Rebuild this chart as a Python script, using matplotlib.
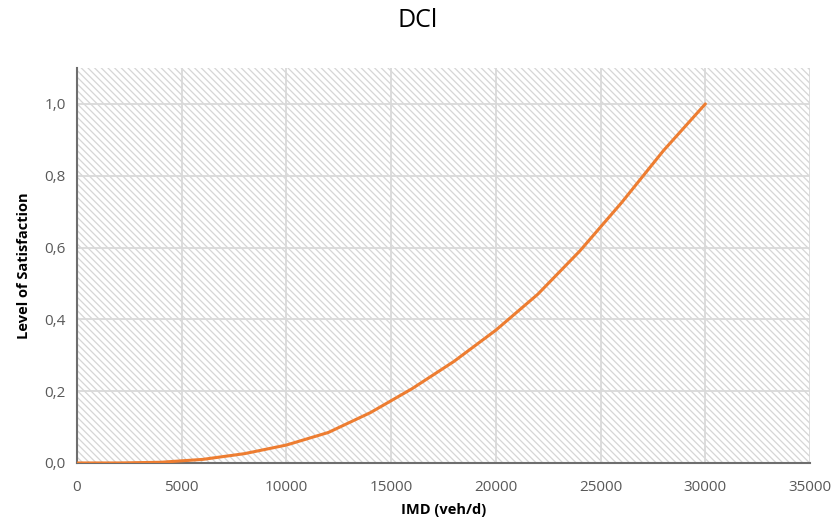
import matplotlib

matplotlib.use("Agg")

import matplotlib.pyplot as plt
from matplotlib.patches import Rectangle
from matplotlib.ticker import FuncFormatter

# IMD (veh/d) vs level of satisfaction
imd = [0, 2000, 4000, 6000, 8000, 10000, 12000, 14000, 16000,
       18000, 20000, 22000, 24000, 26000, 28000, 30000]
satisfaction = [0.0, 0.0, 0.002, 0.01, 0.026, 0.05, 0.085, 0.14, 0.207,
                0.283, 0.37, 0.47, 0.59, 0.725, 0.87, 1.0]

x_ticks = [0, 5000, 10000, 15000, 20000, 25000, 30000, 35000]
y_ticks = [0.0, 0.2, 0.4, 0.6, 0.8, 1.0]

plt.rcParams["font.family"] = ["Open Sans", "DejaVu Sans"]
plt.rcParams["hatch.linewidth"] = 0.9

fig = plt.figure(figsize=(8.36, 5.26), dpi=100)
ax = fig.add_axes([0.0921, 0.1198, 0.8769, 0.7509])

# light diagonal hatch over the plot area
ax.add_patch(Rectangle((0, 0), 1, 1, transform=ax.transAxes, facecolor="white",
                       edgecolor="#d6d6d6", linewidth=0, hatch="\\\\\\\\\\",
                       zorder=0))

ax.plot(imd, satisfaction, color="#ed7d31", linewidth=2.2, zorder=3,
        solid_capstyle="round")

ax.set_xlim(0, 35000)
ax.set_ylim(0, 1.1)
ax.set_xticks(x_ticks)
ax.set_yticks(y_ticks)
ax.yaxis.set_major_formatter(FuncFormatter(lambda v, _: f"{v:.1f}".replace(".", ",")))
ax.grid(True, color="#d9d9d9", linewidth=1.3, zorder=1)
ax.set_axisbelow(True)

for side in ("top", "right"):
    ax.spines[side].set_visible(False)
for side in ("left", "bottom"):
    ax.spines[side].set_color("#6e6e6e")
    ax.spines[side].set_linewidth(1.5)

ax.tick_params(length=0, labelsize=11, colors="#595959", pad=12)
ax.tick_params(axis="y", pad=8)

ax.set_xlabel("IMD (veh/d)", fontsize=10.5, fontweight="bold", labelpad=6)
ax.set_ylabel("Level of Satisfaction", fontsize=10.5, fontweight="bold", labelpad=10)
fig.suptitle("DCl", fontsize=18, y=0.985)

fig.savefig("out.png", dpi=100)
plt.close(fig)
